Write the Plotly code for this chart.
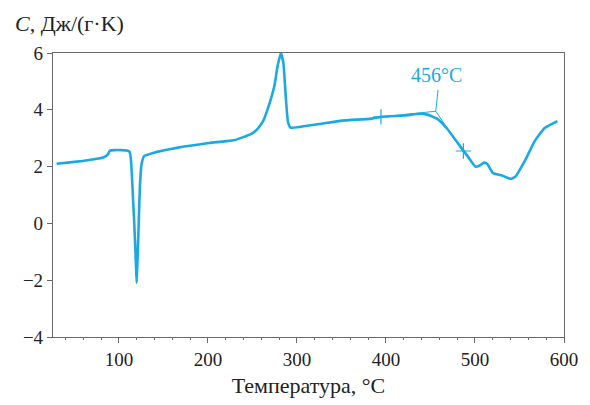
import plotly.graph_objects as go

# Temperature (°C) and heat capacity C (J/(g·K))
temp = [30, 45, 60, 70, 80, 85, 88, 90, 95, 103, 110, 112, 113.7, 115.6, 117.4, 119.2, 120,
        121, 122.2, 123.6, 125.5, 128.4, 139.4, 165, 201.4, 230.7, 241.7, 249, 256.3, 262,
        267.2, 274.6, 278.2, 281.9, 284.8, 287.4, 289.9, 292.9, 303.8, 329.4, 351, 384.2,
        394.4, 420.7, 439, 446.4, 457.4, 468.3, 479.3, 490.2, 500.5, 504.8, 510.3, 513.9,
        520.2, 530.4, 539.6, 545, 556, 567, 578, 592.6]
heat_cap = [2.10, 2.15, 2.20, 2.25, 2.30, 2.36, 2.45, 2.56, 2.58, 2.58, 2.56, 2.52, 2.2, 1.06,
            -0.09, -1.46, -2.09, -1.23, -0.09, 1.29, 2.09, 2.37, 2.49, 2.66, 2.83, 2.94, 3.06,
            3.15, 3.35, 3.6, 4.03, 4.83, 5.52, 6.0, 5.64, 4.49, 3.58, 3.37, 3.40, 3.52, 3.62,
            3.69, 3.75, 3.80, 3.86, 3.83, 3.69, 3.35, 2.89, 2.43, 2.0, 2.03, 2.14, 2.09, 1.77,
            1.69, 1.57, 1.63, 2.2, 2.89, 3.35, 3.60]

# Onset construction (tangent lines) and markers
tangent_x = [394.4, 456, 487]
tangent_y = [3.75, 3.95, 2.5]
leader_x = [456, 458.5]
leader_y = [3.95, 4.7]
marker_x = [394.4, 487]
marker_y = [3.75, 2.55]
onset_label = "456°C"
onset_label_pos = (456.6, 5.22)

x_ticks = [100, 200, 300, 400, 500, 600]
y_ticks = [-4, -2, 0, 2, 4, 6]

CURVE = "#19AAE6"
AXIS = "#6a6a6a"
FONT = "Liberation Serif"
TICKFONT = dict(family=FONT, size=19, color="#222")

fig = go.Figure()
fig.add_trace(go.Scatter(x=temp, y=heat_cap, mode="lines",
                         line=dict(color=CURVE, width=2.6, shape="spline", smoothing=0.4),
                         showlegend=False))
fig.add_trace(go.Scatter(x=tangent_x, y=tangent_y, mode="lines",
                         line=dict(color=CURVE, width=1), showlegend=False))
fig.add_trace(go.Scatter(x=leader_x, y=leader_y, mode="lines",
                         line=dict(color=CURVE, width=1), showlegend=False))
fig.add_trace(go.Scatter(x=marker_x, y=marker_y, mode="markers",
                         marker=dict(symbol="cross-thin", size=11,
                                     line=dict(color=CURVE, width=1.2)),
                         showlegend=False))

fig.add_annotation(x=onset_label_pos[0], y=onset_label_pos[1], text=onset_label,
                   showarrow=False, font=dict(family=FONT, size=20, color=CURVE),
                   xanchor="center", yanchor="middle")

fig.add_annotation(xref="paper", yref="paper", x=-0.079, y=1.105,
                   text="<i>C</i>, Дж/(г·K)", showarrow=False,
                   font=dict(family=FONT, size=22, color="#222"),
                   xanchor="left", yanchor="middle")

fig.update_layout(
    width=590, height=405,
    margin=dict(l=53, r=16, t=53, b=61),
    paper_bgcolor="white", plot_bgcolor="white",
    font=dict(family=FONT, size=19, color="#222"),
    showlegend=False,
)
fig.update_xaxes(range=[26, 600], tickvals=x_ticks, ticks="outside", ticklen=5,
                 tickcolor=AXIS, showline=True, linecolor=AXIS, linewidth=1.2,
                 mirror=True, showgrid=False, zeroline=False, tickfont=TICKFONT,
                 minor=dict(dtick=20, tick0=0, ticks="outside", ticklen=2, tickcolor=AXIS),
                 title=dict(text="Температура, °C", standoff=8,
                            font=dict(family=FONT, size=22, color="#222")))
fig.update_yaxes(range=[-4, 6], tickvals=y_ticks, ticks="outside", ticklen=5,
                 tickcolor=AXIS, showline=True, linecolor=AXIS, linewidth=1.2,
                 mirror=True, showgrid=False, zeroline=False, tickfont=TICKFONT)

fig.write_html("out.html")
